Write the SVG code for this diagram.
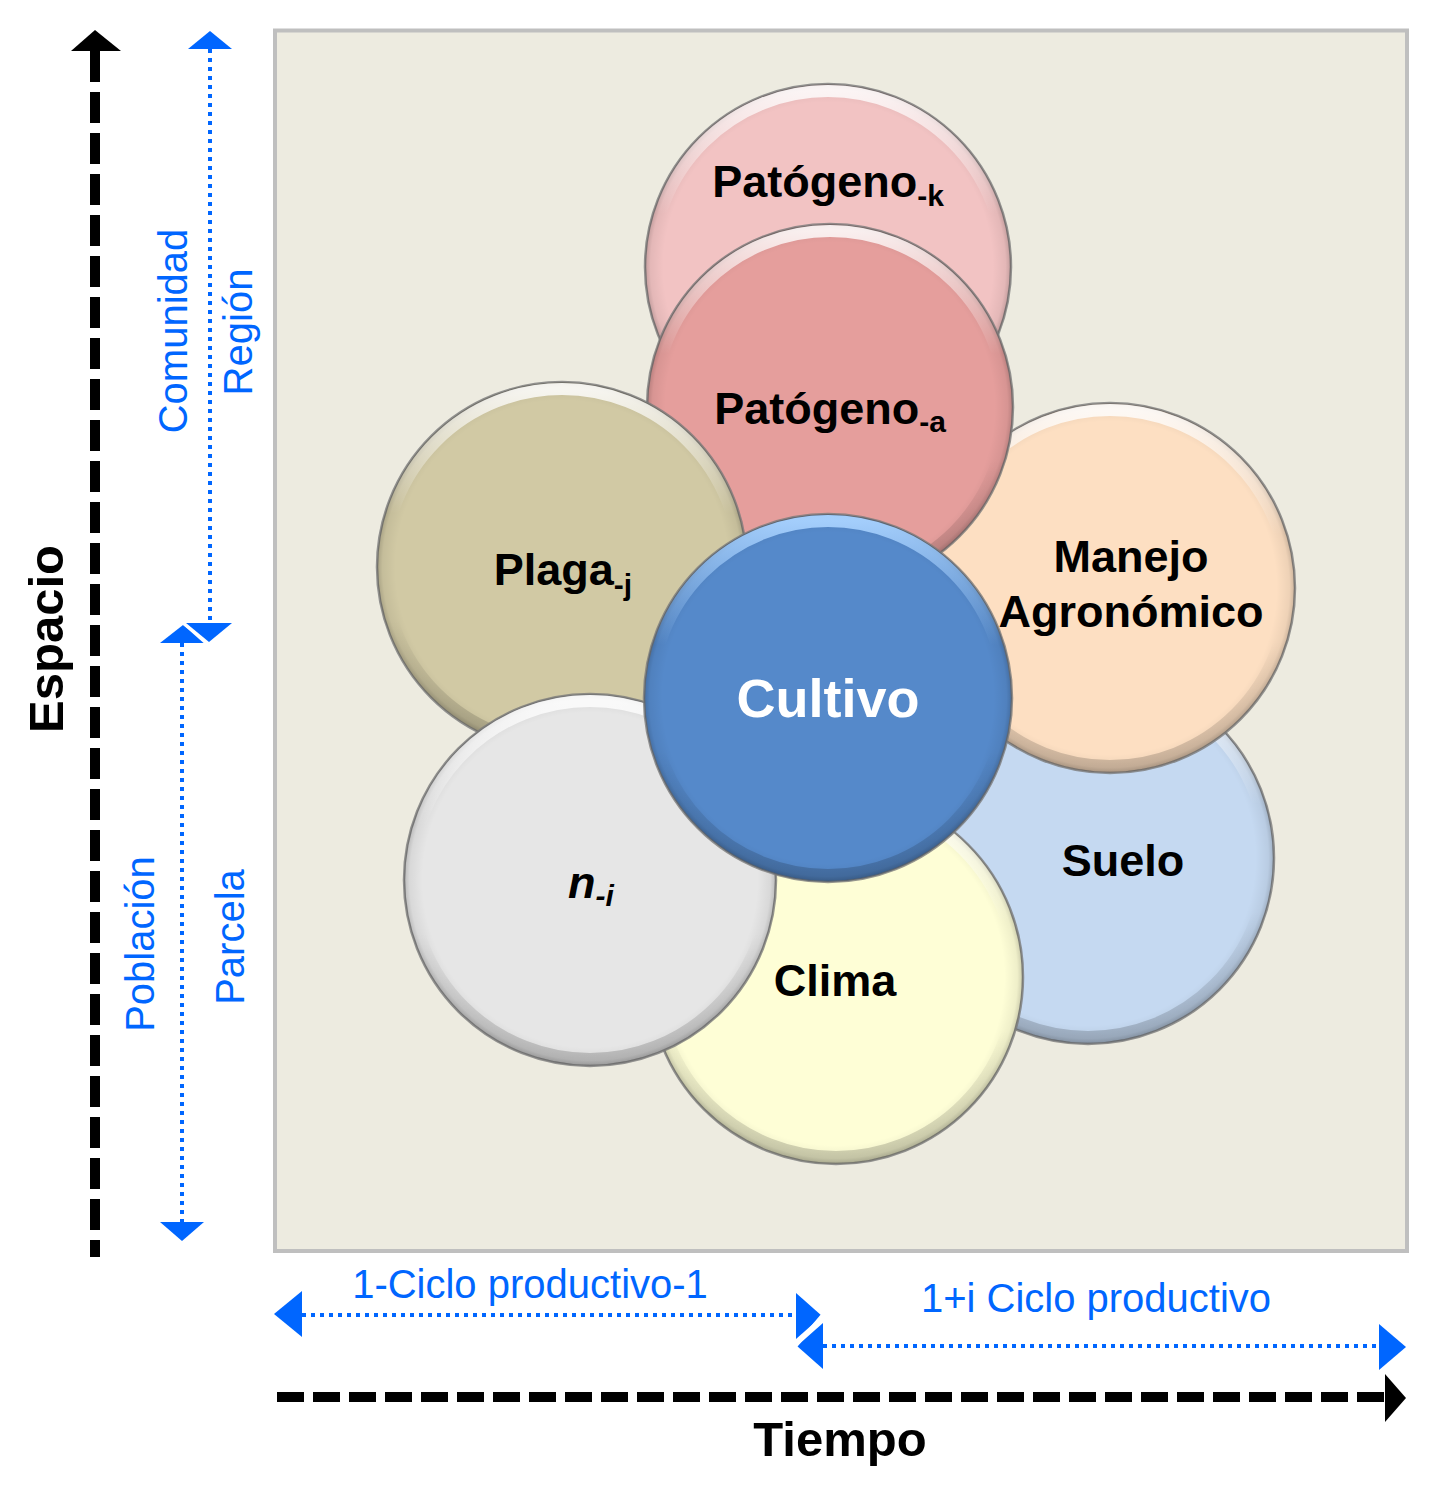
<svg xmlns="http://www.w3.org/2000/svg" width="1439" height="1499" viewBox="0 0 1439 1499">
<style>
.lbl{font-family:"Liberation Sans",Arial,sans-serif;font-weight:bold;font-size:45px;fill:#000}
.blue{font-family:"Liberation Sans",Arial,sans-serif;font-size:40px;fill:#0066FF}
.axis{font-family:"Liberation Sans",Arial,sans-serif;font-weight:bold;font-size:49px;fill:#000}
.outline{stroke:#7a7a7a;stroke-width:2.5;stroke-opacity:0.8}
.hl{fill:none;stroke:url(#hl);stroke-width:12}
.rim{fill:url(#rim)}
.dot{stroke:#0066FF;stroke-width:4;stroke-dasharray:4 5;fill:none}
.bh{fill:#0066FF}
</style>
<defs>
<linearGradient id="hl" x1="0" y1="0" x2="0" y2="1">
<stop offset="0" stop-color="#fff" stop-opacity="0.85"/>
<stop offset="0.35" stop-color="#fff" stop-opacity="0"/>
<stop offset="0.65" stop-color="#000" stop-opacity="0"/>
<stop offset="1" stop-color="#000" stop-opacity="0.18"/>
</linearGradient>
<linearGradient id="hlb" x1="0" y1="0" x2="0" y2="1">
<stop offset="0" stop-color="#A8D2FF" stop-opacity="0.95"/>
<stop offset="0.35" stop-color="#A8D2FF" stop-opacity="0"/>
<stop offset="0.65" stop-color="#000" stop-opacity="0"/>
<stop offset="1" stop-color="#000" stop-opacity="0.18"/>
</linearGradient>
<radialGradient id="rim" cx="0.5" cy="0.5" r="0.5">
<stop offset="0.9" stop-color="#000" stop-opacity="0"/>
<stop offset="0.97" stop-color="#000" stop-opacity="0.06"/>
<stop offset="1" stop-color="#000" stop-opacity="0.2"/>
</radialGradient>
</defs>
<rect x="0" y="0" width="1439" height="1499" fill="#fff"/>
<rect id="frame" x="275" y="30.5" width="1132" height="1220.5" fill="#EDEBE0" stroke="#BFBFBF" stroke-width="4"/>

<g id="node-patogeno-k">
<circle cx="828" cy="267" r="183" fill="#F2C3C3" class="outline"/>
<circle cx="828" cy="267" r="183" class="rim"/>
<circle cx="828" cy="267" r="176" class="hl"/>
<text class="lbl" x="828" y="197" text-anchor="middle">Patógeno<tspan font-size="30" dy="9">-k</tspan></text>
</g>
<g id="node-suelo">
<circle cx="1088" cy="858" r="186" fill="#C5D9F1" class="outline"/>
<circle cx="1088" cy="858" r="186" class="rim"/>
<circle cx="1088" cy="858" r="179" class="hl"/>
<text class="lbl" x="1123" y="876" text-anchor="middle">Suelo</text>
</g>
<g id="node-manejo">
<circle cx="1110" cy="588" r="185" fill="#FDDFC2" class="outline"/>
<circle cx="1110" cy="588" r="185" class="rim"/>
<circle cx="1110" cy="588" r="178" class="hl"/>
<text class="lbl" x="1131" y="572" text-anchor="middle">Manejo</text>
<text class="lbl" x="1131" y="627" text-anchor="middle">Agronómico</text>
</g>
<g id="node-patogeno-a">
<circle cx="830" cy="407" r="183" fill="#E59E9C" class="outline"/>
<circle cx="830" cy="407" r="183" class="rim"/>
<circle cx="830" cy="407" r="176" class="hl"/>
<text class="lbl" x="830" y="424" text-anchor="middle">Patógeno<tspan font-size="30" dy="8">-a</tspan></text>
</g>
<g id="node-plaga">
<circle cx="562" cy="567" r="185" fill="#D1C9A4" class="outline"/>
<circle cx="562" cy="567" r="185" class="rim"/>
<circle cx="562" cy="567" r="178" class="hl"/>
<text class="lbl" x="563" y="585" text-anchor="middle">Plaga<tspan font-size="30" dy="10">-j</tspan></text>
</g>
<g id="node-clima">
<circle cx="836" cy="977" r="187" fill="#FEFED6" class="outline"/>
<circle cx="836" cy="977" r="187" class="rim"/>
<circle cx="836" cy="977" r="180" class="hl"/>
<text class="lbl" x="835" y="996" text-anchor="middle">Clima</text>
</g>
<g id="node-n">
<circle cx="590" cy="880" r="186" fill="#E6E6E6" class="outline"/>
<circle cx="590" cy="880" r="186" class="rim"/>
<circle cx="590" cy="880" r="179" class="hl"/>
<text class="lbl" x="591" y="898" text-anchor="middle" font-style="italic">n<tspan font-size="30" dy="8">-i</tspan></text>
</g>
<g id="node-cultivo">
<circle cx="828" cy="698" r="184" fill="#5589CA" class="outline" stroke="#3f6a9e"/>
<circle cx="828" cy="698" r="184" class="rim"/>
<circle cx="828" cy="698" r="177" fill="none" stroke="url(#hlb)" stroke-width="12"/>
<text class="lbl" x="828" y="717" text-anchor="middle" style="font-size:54px;fill:#fff">Cultivo</text>
</g>

<g id="connectors">
<line x1="95" y1="50" x2="95" y2="1257" stroke="#000" stroke-width="10" stroke-dasharray="31 10" stroke-dashoffset="-1"/>
<polygon points="95,30 71,51 121,51" fill="#000"/>
<line x1="277" y1="1397" x2="1385" y2="1397" stroke="#000" stroke-width="10" stroke-dasharray="27 9"/>
<polygon points="1406,1398 1385,1374 1385,1422" fill="#000"/>
<line class="dot" x1="210" y1="49" x2="210" y2="624"/>
<polygon class="bh" points="210,31 188,49 232,49"/>
<polygon class="bh" points="209,642 186,623 232,623"/>
<line class="dot" x1="182" y1="643" x2="182" y2="1222"/>
<polygon class="bh" points="183,625 160,643 206,643"/>
<polygon class="bh" points="182,1241 160,1222 204,1222"/>
<line x1="182" y1="622" x2="208" y2="645" stroke="#fff" stroke-width="3"/>
<line class="dot" x1="302" y1="1315" x2="796" y2="1315"/>
<polygon class="bh" points="274,1314 302,1291 302,1337"/>
<polygon class="bh" points="822,1316 796,1293 796,1339"/>
<line class="dot" x1="823" y1="1346" x2="1379" y2="1346"/>
<polygon class="bh" points="797,1346 823,1323 823,1369"/>
<polygon class="bh" points="1406,1347 1379,1324 1379,1370"/>
<line x1="824" y1="1313" x2="796" y2="1346" stroke="#fff" stroke-width="3"/>
</g>

<g id="labels">
<text class="axis" transform="translate(63,639) rotate(-90)" text-anchor="middle">Espacio</text>
<text class="axis" x="840" y="1456" text-anchor="middle">Tiempo</text>
<text class="blue" transform="translate(187,331) rotate(-90)" text-anchor="middle">Comunidad</text>
<text class="blue" transform="translate(252,332) rotate(-90)" text-anchor="middle">Región</text>
<text class="blue" transform="translate(154,944) rotate(-90)" text-anchor="middle">Población</text>
<text class="blue" transform="translate(244,937) rotate(-90)" text-anchor="middle">Parcela</text>
<text class="blue" x="530" y="1298" text-anchor="middle">1-Ciclo productivo-1</text>
<text class="blue" x="1096" y="1312" text-anchor="middle">1+i Ciclo productivo</text>
</g>
</svg>
